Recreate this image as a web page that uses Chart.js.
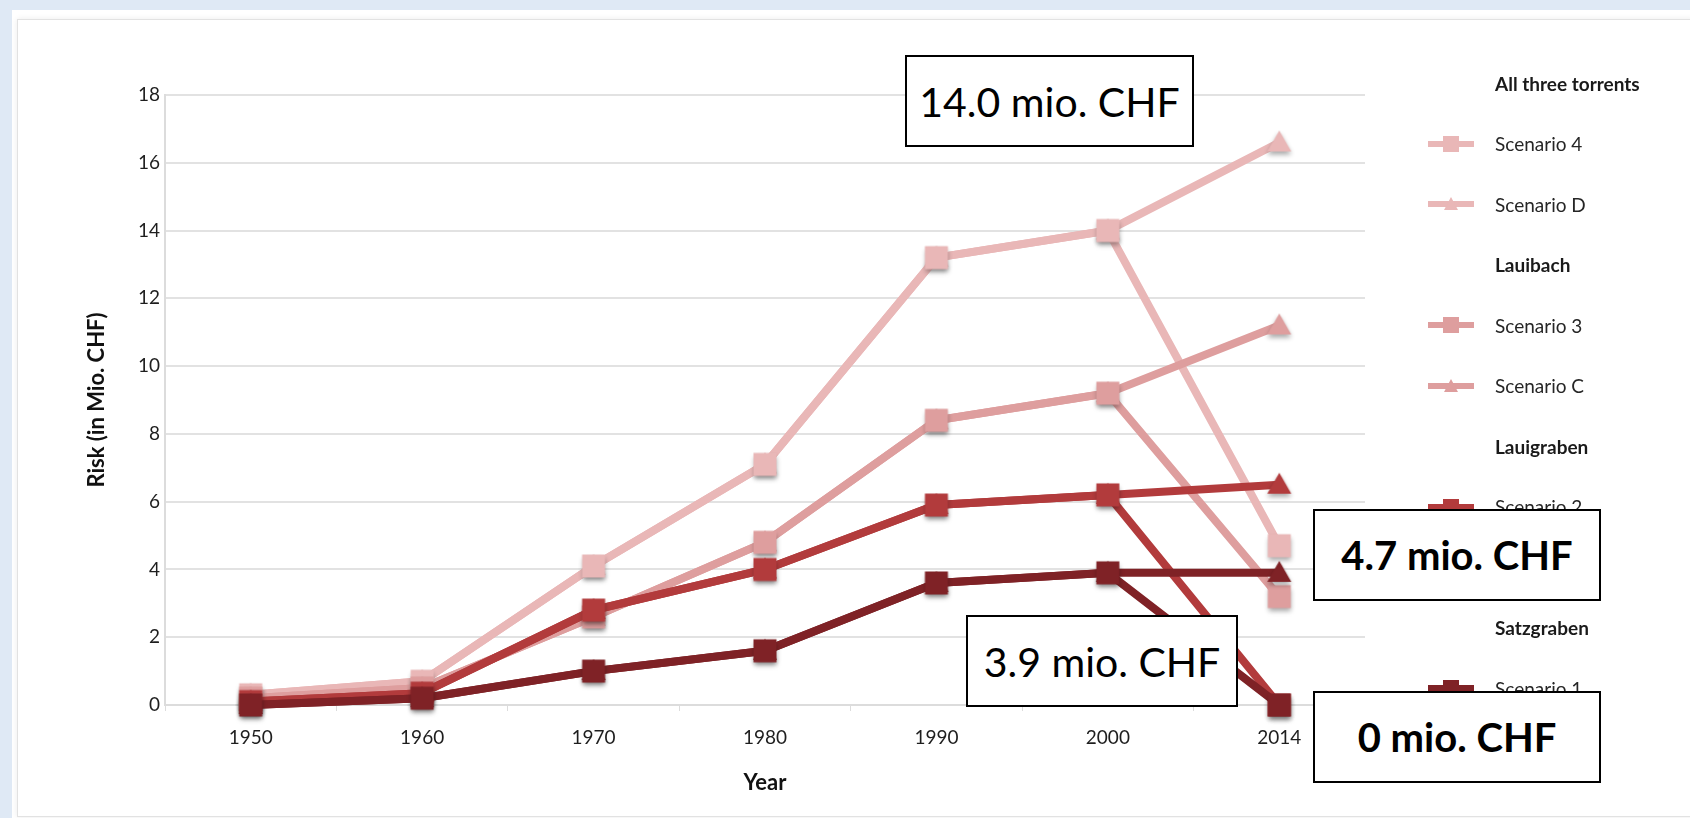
<!DOCTYPE html>
<html>
<head>
<meta charset="utf-8">
<title>Risk development</title>
<script src="https://cdn.jsdelivr.net/npm/chart.js@4.4.1/dist/chart.umd.min.js"></script>
<style>
  html, body { margin: 0; padding: 0; }
  body {
    width: 1690px; height: 818px; overflow: hidden; position: relative;
    background: #dfe9f5; font-family: Lato, "Open Sans", sans-serif;
  }
  #panel {
    position: absolute; left: 12px; top: 10px; right: 0; bottom: 0;
    background: #fff;
  }
  #frame {
    position: absolute; left: 17px; top: 19px; right: -4px; bottom: 1px;
    border: 1px solid #e2e2e2; box-shadow: 0 0 6px rgba(0,0,0,0.08);
    background: #fff;
  }
  #c { position: absolute; left: 0; top: 0; }
  #legend { position: absolute; left: 1428px; top: 53px; }
  .row { height: 60.5px; display: flex; align-items: center; }
  .row .txt { position: absolute; left: 67px; white-space: nowrap; color: #262626; font-size: 19px; }
  .row.head .txt { font-weight: bold; color: #1a1a1a; }
  .row canvas { display: block; }
  .note {
    position: absolute; box-sizing: border-box; border: 2px solid #000;
    background: #fff; color: #000; font-size: 41px;
    display: flex; align-items: center; justify-content: center;
    font-family: Lato, "Open Sans", sans-serif; white-space: nowrap;
  }
  .note.strong { font-weight: bold; font-size: 40px; }
</style>
</head>
<body>
<div id="panel"></div>
<div id="frame"></div>
<canvas id="c" width="1690" height="818"></canvas>
<div id="legend"></div>
<div class="note" style="left:905px;top:55px;width:289px;height:92px;">14.0 mio. CHF</div>
<div class="note strong" style="left:1313px;top:509px;width:288px;height:92px;">4.7 mio. CHF</div>
<div class="note" style="left:966px;top:615px;width:272px;height:92px;">3.9 mio. CHF</div>
<div class="note strong" style="left:1313px;top:691px;width:288px;height:92px;">0 mio. CHF</div>
<script>
// years on the x axis
var years = ['1950', '1960', '1970', '1980', '1990', '2000', '2014'];

// risk in mio. CHF, squares = scenarios 1-4, triangles = scenarios A-D
var scenario4 = [0.3, 0.7, 4.1, 7.1, 13.2, 14.0, 4.7];
var scenarioD = [0.3, 0.7, 4.1, 7.1, 13.2, 14.0, 16.6];
var scenario3 = [0.2, 0.5, 2.6, 4.8, 8.4, 9.2, 3.2];
var scenarioC = [0.2, 0.5, 2.6, 4.8, 8.4, 9.2, 11.2];
var scenario2 = [0.1, 0.35, 2.8, 4.0, 5.9, 6.2, 0];
var scenarioB = [0.1, 0.35, 2.8, 4.0, 5.9, 6.2, 6.5];
var scenario1 = [0.0, 0.2, 1.0, 1.6, 3.6, 3.9, 0];
var scenarioA = [0.0, 0.2, 1.0, 1.6, 3.6, 3.9, 3.9];

var groups = ['All three torrents', 'Lauibach', 'Lauigraben', 'Satzgraben'];
var yTicks = [0, 2, 4, 6, 8, 10, 12, 14, 16, 18];

var colAll = '#e9b7b7';
var colLauibach = '#de9e9e';
var colLauigraben = '#b23b3c';
var colSatzgraben = '#7f2226';

// marker sprite with a soft drop shadow underneath
function marker(color, shape) {
    var cv = document.createElement('canvas');
    cv.width = 40; cv.height = 40;
    var g = cv.getContext('2d');
    g.shadowColor = 'rgba(0,0,0,0.35)';
    g.shadowBlur = 5;
    g.shadowOffsetY = 3;
    g.fillStyle = color;
    if (shape === 'rect') {
        g.fillRect(8.5, 8.5, 23, 23);
    } else {
        g.beginPath();
        g.moveTo(20, 8); g.lineTo(32, 29); g.lineTo(8, 29);
        g.closePath(); g.fill();
    }
    return cv;
}

function series(label, values, color, shape, order) {
    return {
        label: label,
        shape: shape,
        data: values,
        borderColor: color,
        backgroundColor: color,
        pointStyle: marker(color, shape),
        pointRadius: 12,
        borderWidth: 8,
        tension: 0,
        fill: false,
        clip: false,
        order: order
    };
}

var datasets = [
    series('Scenario 4', scenario4, colAll, 'rect', 7),
    series('Scenario D', scenarioD, colAll, 'triangle', 8),
    series('Scenario 3', scenario3, colLauibach, 'rect', 5),
    series('Scenario C', scenarioC, colLauibach, 'triangle', 6),
    series('Scenario 2', scenario2, colLauigraben, 'rect', 3),
    series('Scenario B', scenarioB, colLauigraben, 'triangle', 4),
    series('Scenario 1', scenario1, colSatzgraben, 'rect', 1),
    series('Scenario A', scenarioA, colSatzgraben, 'triangle', 2)
];

var ctx = document.getElementById('c').getContext('2d');
var chart = new Chart(ctx, {
    type: 'line',
    data: { labels: years, datasets: datasets },
    options: {
        responsive: false,
        animation: false,
        devicePixelRatio: 1,
        layout: { padding: { left: 70, top: 95, right: 325, bottom: 0 } },
        plugins: { legend: { display: false }, tooltip: { enabled: false } },
        scales: {
            x: {
                offset: true,
                grid: { offset: true, drawOnChartArea: false, drawTicks: true, tickLength: 6, color: '#dcdcdc' },
                border: { color: '#dcdcdc', width: 2 },
                ticks: { color: '#1e1e1e', padding: 15, font: { family: 'Lato', size: 19 } },
                title: {
                    display: true, text: 'Year', color: '#111',
                    font: { family: 'Lato', size: 22, weight: 'bold' },
                    padding: { top: 0, bottom: 22 }
                },
                afterFit: function (scale) { scale.height = 113; }
            },
            y: {
                min: 0,
                max: 18,
                afterBuildTicks: function (scale) {
                    scale.ticks = yTicks.map(function (v) { return { value: v }; });
                },
                grid: { color: '#e2e2e2', lineWidth: 2, drawTicks: false },
                border: { color: '#dcdcdc', width: 2 },
                ticks: { color: '#1e1e1e', padding: 5, font: { family: 'Lato', size: 19 } },
                title: {
                    display: true, text: 'Risk (in Mio. CHF)', color: '#111',
                    font: { family: 'Lato', size: 22, weight: 'bold' },
                    padding: { top: 14, bottom: 0 }
                },
                afterFit: function (scale) { scale.width = 95; }
            }
        }
    }
});

// legend with a bold header per torrent, then its two scenarios
function swatch(color, shape) {
    var cv = document.createElement('canvas');
    cv.width = 46; cv.height = 24;
    var g = cv.getContext('2d');
    g.fillStyle = color;
    g.fillRect(0, 9, 46, 6);
    if (shape === 'rect') {
        g.fillRect(15, 4, 16, 16);
    } else {
        g.beginPath();
        g.moveTo(23, 5); g.lineTo(30, 18); g.lineTo(16, 18);
        g.closePath(); g.fill();
    }
    return cv;
}

var legend = document.getElementById('legend');
groups.forEach(function (name, gi) {
    var head = document.createElement('div');
    head.className = 'row head';
    head.innerHTML = '<span class="txt">' + name + '</span>';
    legend.appendChild(head);
    [datasets[gi * 2], datasets[gi * 2 + 1]].forEach(function (ds) {
        var row = document.createElement('div');
        row.className = 'row';
        row.appendChild(swatch(ds.borderColor, ds.shape));
        var t = document.createElement('span');
        t.className = 'txt';
        t.textContent = ds.label;
        row.appendChild(t);
        legend.appendChild(row);
    });
});
</script>
</body>
</html>
